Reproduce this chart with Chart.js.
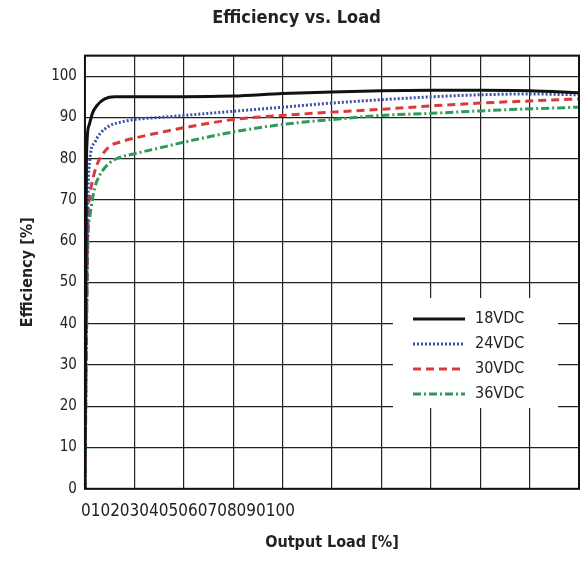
<!DOCTYPE html><html><head><script src="https://cdn.jsdelivr.net/npm/chart.js@4"></script>
<style>body{margin:0;background:#fff}#w{width:587px;height:562px}</style></head><body><div id="w"><canvas id="c"></canvas></div>
<script>
const F="'Liberation Sans Narrow','DejaVu Sans Condensed',sans-serif";
const xTickText="0102030405060708090100";
const s18x=[0,0.3,0.8,1.5,2.5,4,6,10,20,30,40,50,60,70,80,90,100];
const s18y=[0,80,88,91,93,94.5,95,95,95,95.2,95.8,96.2,96.5,96.6,96.6,96.5,96];
const s24x=[0,0.3,0.6,1,2,3,5,7,10,15,20,30,40,50,60,70,80,90,100];
const s24y=[0,40,70,80,84,86,88,88.8,89.5,90,90.5,91.5,92.5,93.5,94.3,95,95.5,95.7,95.5];
const s30x=[0,0.3,0.6,1,2,3,5,7,10,15,20,30,40,50,60,70,80,90,100];
const s30y=[0,40,65,71,77,80,83,84,85,86.3,87.5,89.5,90.5,91.3,92,92.8,93.5,94,94.5];
const s36x=[0,0.3,0.6,1,2,3,5,7,10,15,20,30,40,50,60,70,80,90,100];
const s36y=[0,35,60,66,73,76,79,80.3,81.2,82.6,84,86.5,88.3,89.5,90.5,91,91.6,92.1,92.5];
const names=["18VDC","24VDC","30VDC","36VDC"];
const cols=["#111111","#3a4fa8","#d93a3a","#2e9a5a"];
const dashes=[[],[2,2],[8,5],[8,3,2,3]];
const xs=[s18x,s24x,s30x,s36x], ys=[s18y,s24y,s30y,s36y];
const ds=names.map((n,i)=>({label:n,data:xs[i].map((x,j)=>({x,y:ys[i][j]})),borderColor:cols[i],borderWidth:3,borderDash:dashes[i],pointRadius:0,tension:0.4,cubicInterpolationMode:'monotone',fill:false}));
const extra={id:'extra',afterDraw(c){const g=c.ctx,a=c.chartArea;g.save();
g.font="17px "+F;g.fillStyle="#222";g.textBaseline='top';g.fillText(xTickText,a.left-4,a.bottom+14);
const lx=403, ly=310;
g.fillStyle="#fff";g.fillRect(lx-10,ly-12,165,110);
names.forEach((n,i)=>{const y=ly+9+i*25;g.strokeStyle=cols[i];g.lineWidth=3;g.setLineDash(dashes[i]);g.beginPath();g.moveTo(lx+10,y);g.lineTo(lx+62,y);g.stroke();g.setLineDash([]);g.fillStyle="#222";g.font="16px "+F;g.textBaseline='middle';g.fillText(n,lx+72,y);});
g.strokeStyle="#111";g.lineWidth=2;g.strokeRect(a.left,a.top,a.right-a.left,a.bottom-a.top);g.restore();}};
new Chart(document.getElementById('c'),{type:'line',data:{datasets:ds},plugins:[extra],
options:{responsive:true,maintainAspectRatio:false,animation:false,
layout:{padding:{top:0,right:8,left:14,bottom:8}},
plugins:{legend:{display:false},tooltip:{enabled:false},title:{display:true,text:"Efficiency vs. Load",font:{family:F,size:18,weight:'bold'},color:'#222',padding:{top:8,bottom:26}}},
scales:{x:{type:'linear',min:0,max:100,ticks:{stepSize:10,display:false},grid:{color:'#222',lineWidth:1.2,drawTicks:false},border:{display:false},
title:{display:true,text:"Output Load [%]",font:{family:F,size:16,weight:'bold'},color:'#222',padding:{top:44,bottom:2}}},
y:{min:0,max:105,ticks:{stepSize:10,font:{family:F,size:15},color:'#222',padding:8,callback:v=>v>100?'':v},grid:{color:'#222',lineWidth:1.2,drawTicks:false},border:{display:false},
title:{display:true,text:"Efficiency [%]",font:{family:F,size:16,weight:'bold'},color:'#222',padding:{bottom:6}}}}}});
</script></body></html>
